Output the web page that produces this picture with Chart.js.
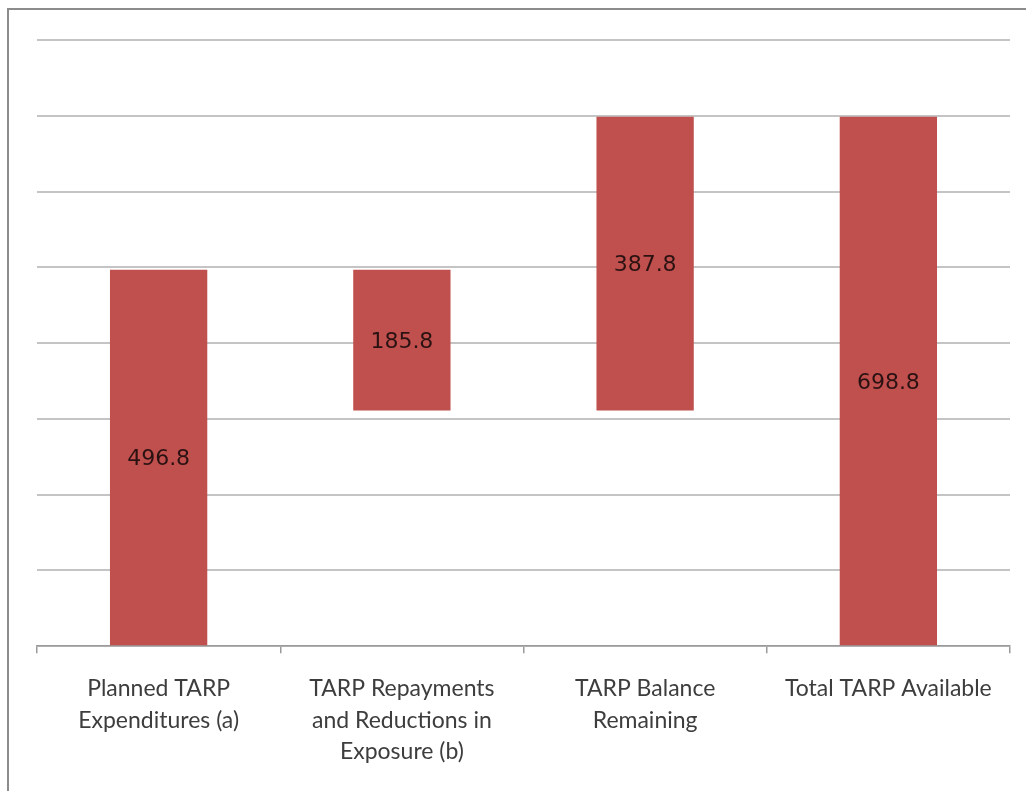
<!DOCTYPE html>
<html>
<head>
<meta charset="utf-8">
<script src="https://cdn.jsdelivr.net/npm/chart.js@4.4.0/dist/chart.umd.js"></script>
<style>
  html, body { margin: 0; padding: 0; background: #fff; overflow: hidden; }
  #wrap { position: relative; width: 1026px; height: 791px; }
  #frame { position: absolute; left: 7px; top: 8px; width: 1100px; height: 900px;
           border: 2px solid #8c8c8c; box-sizing: border-box; }
  canvas { position: absolute; left: 0; top: 0; }
</style>
</head>
<body>
<div id="wrap">
  <div id="frame"></div>
  <canvas id="chart" width="1026" height="791"></canvas>
</div>
<script>
// waterfall data ($ billions)
const categories = [
    ['Planned TARP', 'Expenditures (a)'],
    ['TARP Repayments', 'and Reductions in', 'Exposure (b)'],
    ['TARP Balance', 'Remaining'],
    ['Total TARP Available'],
];
const amounts  = [496.8, 185.8, 387.8, 698.8];
const barLows  = [0, 311, 311, 0];
const barHighs = [496.8, 496.8, 698.8, 698.8];

const yMin = 0, yMax = 800, yStep = 100;

// draws the value in the middle of each floating bar
const centerLabels = {
    id: 'centerLabels',
    afterDatasetsDraw(chart) {
        const { ctx } = chart;
        const meta = chart.getDatasetMeta(0);
        ctx.save();
        ctx.font = '22px "DejaVu Sans"';
        ctx.fillStyle = '#2b1212';
        ctx.textAlign = 'center';
        ctx.textBaseline = 'middle';
        meta.data.forEach((bar, i) => {
            const mid = (bar.y + bar.base) / 2;
            ctx.fillText(amounts[i].toFixed(1), bar.x, mid + 2);
        });
        ctx.restore();
    },
};

new Chart(document.getElementById('chart'), {
    type: 'bar',
    data: {
        labels: categories,
        datasets: [{
            data: barLows.map((lo, i) => [lo, barHighs[i]]),
            backgroundColor: '#c0504d',
            borderWidth: 0,
            categoryPercentage: 1,
            barPercentage: 0.4,
        }],
    },
    options: {
        responsive: false, animation: false,
        layout: { padding: { left: 37, right: 16, top: 40, bottom: 4 } },
        plugins: { legend: { display: false }, tooltip: { enabled: false } },
        scales: {
            x: {
                grid: { display: true, drawOnChartArea: false, drawTicks: true, tickLength: 7,
                        color: '#9a9a9a', lineWidth: 1.5 },
                border: { display: true, color: '#9a9a9a', width: 1.5 },
                ticks: {
                    autoSkip: false, maxRotation: 0, minRotation: 0, padding: 20,
                    color: '#3d3d3d',
                    font: { family: 'Lato', size: 23, lineHeight: 1.36 },
                },
            },
            y: {
                min: yMin, max: yMax,
                ticks: { display: false, stepSize: yStep },
                grid: { color: '#c4c4c4', lineWidth: 2, drawTicks: false },
                border: { display: false },
            },
        },
    },
    plugins: [centerLabels],
});
</script>
</body>
</html>
